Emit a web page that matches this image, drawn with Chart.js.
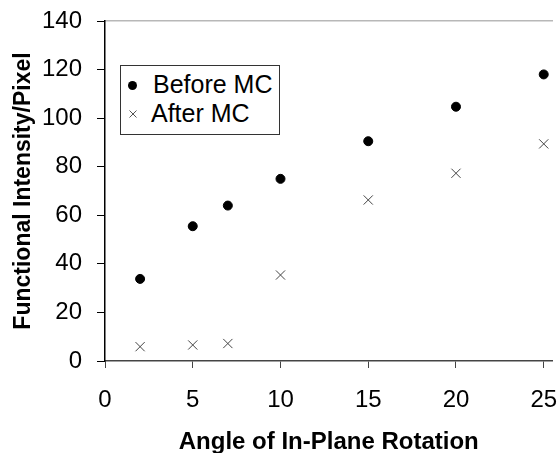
<!DOCTYPE html>
<html>
<head>
<meta charset="utf-8">
<script src="https://cdn.jsdelivr.net/npm/chart.js@4/dist/chart.umd.min.js"></script>
<style>
    html, body { margin: 0; padding: 0; background: #fff; overflow: hidden; }
    #wrap { position: relative; width: 560px; height: 453px; overflow: hidden; }
    #legend {
        position: absolute; left: 120px; top: 65px; width: 158px; height: 68px;
        border: 1px solid #333; background: #fff;
        font-family: 'Liberation Sans', Arial, sans-serif; font-size: 25px; color: #000;
    }
    #legend .dot { position: absolute; left: 7px; top: 15px; width: 9px; height: 9px; border-radius: 50%; background: #000; }
    #legend .cross { position: absolute; left: 8px; top: 44px; }
    #legend .lbl1 { position: absolute; left: 32px; top: 4px; }
    #legend .lbl2 { position: absolute; left: 30px; top: 33px; }
</style>
</head>
<body>
<div id="wrap">
    <canvas id="chart" width="560" height="460"></canvas>
    <div id="legend"></div>
</div>
<script>
// Angle of in-plane rotation (x values)
const angles = [2, 5, 7, 10, 15, 20, 25];
// Functional intensity per pixel
const beforeMC = [33.8, 55.5, 64, 75, 90.5, 104.7, 118];
const afterMC = [5.9, 6.6, 7.2, 35.4, 66.3, 77.3, 89.4];
const seriesNames = ['Before MC', 'After MC'];

const FONT = "'Liberation Sans', Arial, sans-serif";
const X_MAX = 25.5; // plot area is cut off just past 25

const toPoints = (ys) => angles.map((x, i) => ({ x: x, y: ys[i] }));

new Chart(document.getElementById('chart'), {
    type: 'scatter',
    data: {
        datasets: [
            {
                label: seriesNames[0],
                data: toPoints(beforeMC),
                pointStyle: 'circle',
                pointRadius: 4.5,
                backgroundColor: '#000',
                borderColor: '#000',
                borderWidth: 1,
            },
            {
                label: seriesNames[1],
                data: toPoints(afterMC),
                pointStyle: 'crossRot',
                pointRadius: 6.5,
                borderColor: '#444',
                borderWidth: 1,
            },
        ],
    },
    options: {
        responsive: false,
        animation: false,
        layout: { padding: { top: 21, left: 0, right: 0, bottom: 0 } },
        plugins: {
            legend: { display: false },
            tooltip: { enabled: false },
        },
        scales: {
            x: {
                type: 'linear',
                min: 0,
                max: X_MAX,
                afterFit: (s) => {
                    s.height = 99;
                    s.paddingLeft = 0;
                    s.paddingRight = 0;
                },
                ticks: {
                    stepSize: 5,
                    includeBounds: false,
                    color: '#000',
                    padding: 18,
                    maxRotation: 0,
                    font: { family: FONT, size: 24 },
                },
                grid: {
                    drawOnChartArea: false,
                    tickLength: 7,
                    tickColor: '#444',
                },
                border: { color: '#444', width: 1.5 },
                title: {
                    display: true,
                    text: 'Angle of In-Plane Rotation',
                    color: '#000',
                    font: { family: FONT, size: 24, weight: 'bold' },
                    padding: { top: 17, bottom: 3 },
                },
            },
            xTop: {
                type: 'linear',
                position: 'top',
                min: 0,
                max: X_MAX,
                afterFit: (s) => {
                    s.height = 0;
                },
                ticks: { display: false },
                grid: { drawOnChartArea: false, drawTicks: false },
                border: { color: '#b8b8b8', width: 1.5 },
            },
            y: {
                min: 0,
                max: 140,
                afterFit: (s) => {
                    s.width = 105;
                    s.paddingTop = 0;
                    s.paddingBottom = 0;
                },
                ticks: {
                    stepSize: 20,
                    color: '#000',
                    padding: 15,
                    font: { family: FONT, size: 24 },
                },
                grid: {
                    drawOnChartArea: false,
                    tickLength: 8,
                    tickColor: '#000',
                },
                border: { color: '#000', width: 1.5 },
                title: {
                    display: true,
                    text: 'Functional Intensity/Pixel',
                    color: '#000',
                    font: { family: FONT, size: 23, weight: 'bold' },
                    padding: { top: 10, bottom: 8 },
                },
            },
        },
    },
});

// Legend sits inside the plot area, as in the original
document.getElementById('legend').innerHTML = `
    <span class="dot"></span><span class="lbl1">${seriesNames[0]}</span>
    <svg class="cross" width="8" height="8" viewBox="0 0 8 8">
        <path d="M0.5 0.5 L7.5 7.5 M7.5 0.5 L0.5 7.5" stroke="#555" stroke-width="1"/>
    </svg><span class="lbl2">${seriesNames[1]}</span>`;
</script>
</body>
</html>
